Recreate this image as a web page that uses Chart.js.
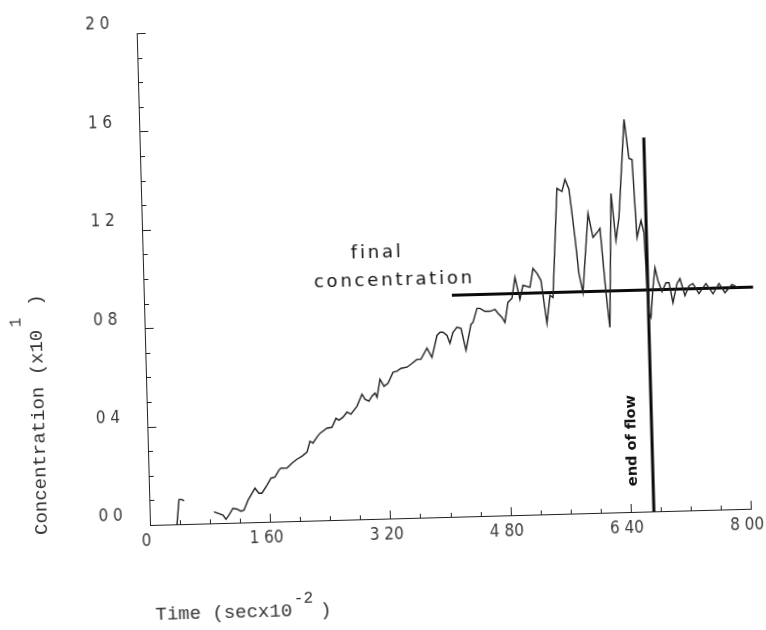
<!DOCTYPE html>
<html>
<head>
<meta charset="utf-8">
<title>Concentration vs time</title>
<script src="https://cdn.jsdelivr.net/npm/chart.js@4.4.1/dist/chart.umd.min.js"></script>
<style>
  html, body { margin: 0; padding: 0; background: #fff; }
  /* the original plot was scanned slightly crooked */
  #wrap { width: 766px; height: 630px; transform: rotate(-1.55deg); transform-origin: 150px 525px; }
</style>
</head>
<body>
<div id="wrap"><canvas id="chart" width="766" height="630"></canvas></div>
<script>
/* ── DATA ─────────────────────────────────────────────────── */
const xTickLabels = ['0', '1 60', '3 20', '4 80', '6 40', '8 00'];
const yTickLabels = ['0 0', '0 4', '0 8', '1 2', '1 6', '2 0'];

// short blip before the main trace
const blipTime = [0.36, 0.395, 0.435, 0.461];
const blipConc = [0.00, 0.100, 0.100, 0.094];

// main trace (time x10^-2 s, concentration x10^1)
const timeVals = [
  0.856, 0.935, 0.975, 1.013, 1.055, 1.110, 1.163, 1.216, 1.256, 1.313,
  1.410, 1.461, 1.501, 1.571, 1.627, 1.680, 1.736, 1.763, 1.843, 1.912,
  1.979, 2.047, 2.116, 2.159, 2.198, 2.254, 2.295, 2.390, 2.456, 2.514,
  2.553, 2.607, 2.662, 2.714, 2.797, 2.868, 2.906, 2.958, 3.000, 3.041,
  3.067, 3.113, 3.164, 3.218, 3.289, 3.342, 3.396, 3.476, 3.545, 3.612,
  3.665, 3.749, 3.812, 3.887, 3.928, 3.967, 4.020, 4.057, 4.101, 4.156,
  4.209, 4.268, 4.343, 4.371, 4.429, 4.469, 4.534, 4.600, 4.668, 4.707,
  4.758, 4.796, 4.843, 4.898, 4.945, 5.004, 5.049, 5.142, 5.188, 5.240,
  5.290, 5.355, 5.405, 5.444, 5.536, 5.602, 5.646, 5.696, 5.758, 5.798,
  5.845, 5.940, 5.998, 6.053, 6.094, 6.151, 6.191, 6.253, 6.303, 6.351,
  6.453, 6.505, 6.545, 6.584, 6.643, 6.678, 6.699, 6.715, 6.741, 6.778,
  6.812, 6.847, 6.897, 6.953, 6.993, 7.039, 7.099, 7.140, 7.201, 7.258,
  7.311, 7.388, 7.484, 7.575, 7.658, 7.734, 7.831, 7.910
];
const concVals = [
  0.046, 0.037, 0.032, 0.015, 0.032, 0.059, 0.055, 0.046, 0.050, 0.090,
  0.138, 0.117, 0.117, 0.149, 0.177, 0.181, 0.209, 0.217, 0.216, 0.236,
  0.251, 0.263, 0.279, 0.323, 0.315, 0.339, 0.354, 0.374, 0.377, 0.413,
  0.405, 0.417, 0.437, 0.428, 0.460, 0.508, 0.487, 0.479, 0.499, 0.511,
  0.494, 0.567, 0.538, 0.550, 0.594, 0.598, 0.609, 0.613, 0.628, 0.644,
  0.644, 0.688, 0.650, 0.739, 0.751, 0.751, 0.738, 0.705, 0.750, 0.770,
  0.765, 0.675, 0.780, 0.788, 0.844, 0.844, 0.831, 0.831, 0.838, 0.822,
  0.805, 0.784, 0.865, 0.881, 0.966, 0.876, 0.933, 0.924, 1.000, 0.980,
  0.951, 0.776, 0.889, 0.880, 1.323, 1.310, 1.359, 1.318, 1.122, 0.975,
  0.897, 1.218, 1.120, 1.139, 1.156, 0.895, 0.752, 1.297, 1.105, 1.198,
  1.596, 1.437, 1.432, 1.115, 1.183, 1.134, 0.918, 0.805, 0.788, 0.909,
  0.990, 0.937, 0.892, 0.928, 0.928, 0.846, 0.923, 0.943, 0.873, 0.913,
  0.921, 0.880, 0.920, 0.878, 0.918, 0.881, 0.913, 0.900
];

// hand-drawn markings
const finalTime   = [4.10, 8.11];
const finalConc   = [0.90, 0.90];
const flowEndTime = [6.71, 6.71];
const flowEndConc = [0.00, 1.52];

const pts = (xs, ys) => xs.map((t, i) => ({ x: t, y: ys[i] }));

/* ── AXIS TICKS, TITLES, NOTES ────────────────────────────── */
const axisDeco = {
  id: 'axisDeco',
  afterDraw(chart) {
    const { ctx, chartArea: a, scales: { x, y } } = chart;
    ctx.save();

    // inward tick marks, 0.1 on y and 0.4 on x
    ctx.strokeStyle = '#222';
    ctx.lineWidth = 1;
    ctx.beginPath();
    for (let i = 0; i <= 20; i++) {
      const py = Math.round(y.getPixelForValue(i * 0.1)) + 0.5;
      ctx.moveTo(a.left, py);
      ctx.lineTo(a.left + (i % 4 ? 5 : 9), py);
      const px = Math.round(x.getPixelForValue(i * 0.4)) + 0.5;
      ctx.moveTo(px, a.bottom);
      ctx.lineTo(px, a.bottom - (i % 4 ? 4 : 8));
    }
    ctx.stroke();

    // axis titles with superscripts
    const big = '19px "Liberation Mono", "DejaVu Sans Mono", monospace';
    const small = '16px "Liberation Mono", "DejaVu Sans Mono", monospace';
    ctx.fillStyle = '#333';
    ctx.textAlign = 'left';
    ctx.textBaseline = 'alphabetic';

    ctx.font = big;
    const xt = 'Time (secx10';
    ctx.fillText(xt, 153, 620);
    const xw = ctx.measureText(xt).width;
    ctx.font = small;
    ctx.fillText('-2', 153 + xw + 2, 607);
    ctx.font = big;
    ctx.fillText(')', 153 + xw + 28, 620);

    ctx.save();
    ctx.translate(47, 532);
    ctx.rotate(-Math.PI / 2);
    const yt = 'Concentration (x10';
    ctx.fillText(yt, 0, 0);
    const yw = ctx.measureText(yt).width;
    ctx.font = small;
    ctx.fillText('1', yw + 3, -21);
    ctx.font = big;
    ctx.fillText(')', yw + 24, 0);
    ctx.restore();

    // handwritten notes
    ctx.fillStyle = '#111';
    ctx.textAlign = 'center';
    ctx.textBaseline = 'middle';
    ctx.font = '18px "DejaVu Sans", sans-serif';
    ctx.letterSpacing = '2.8px';
    ctx.fillText('final', x.getPixelForValue(3.12), y.getPixelForValue(1.08));
    ctx.fillText('concentration', x.getPixelForValue(3.34), y.getPixelForValue(0.965));
    ctx.letterSpacing = '0px';

    ctx.save();
    ctx.translate(x.getPixelForValue(6.44), y.getPixelForValue(0.29));
    ctx.rotate(-Math.PI / 2);
    ctx.font = 'bold 14.5px "DejaVu Sans", sans-serif';
    ctx.fillText('end of flow', 0, 0);
    ctx.restore();

    ctx.restore();
  }
};

/* ── CHART ────────────────────────────────────────────────── */
const tickFont = { family: "'DejaVu Sans Condensed', 'Liberation Sans Narrow', sans-serif", size: 17 };

new Chart(document.getElementById('chart'), {
  type: 'line',
  data: {
    datasets: [
      { data: pts(blipTime, blipConc), borderColor: '#222', borderWidth: 1.4, pointRadius: 0, tension: 0 },
      { data: pts(timeVals, concVals), borderColor: '#222', borderWidth: 1.4, pointRadius: 0, tension: 0 },
      { data: pts(finalTime, finalConc), borderColor: '#0a0a0a', borderWidth: 3, pointRadius: 0, clip: false },
      { data: pts(flowEndTime, flowEndConc), borderColor: '#0a0a0a', borderWidth: 3, pointRadius: 0, clip: false },
    ],
  },
  options: {
    responsive: false,
    animation: false,
    events: [],
    layout: { padding: { top: 33, right: 15, bottom: 0, left: 0 } },
    plugins: { legend: { display: false }, tooltip: { enabled: false } },
    scales: {
      x: {
        type: 'linear', min: 0, max: 8,
        grid: { display: false, drawTicks: false },
        border: { display: true, color: '#222', width: 1 },
        ticks: {
          count: 6, maxRotation: 0, autoSkip: false,
          padding: 6, labelOffset: -4,
          font: tickFont, color: '#3a3a3a',
          callback: (v, i) => xTickLabels[i],
        },
        // pin the plot box: no extra room for label overhang
        afterFit: s => { s.height = 105; s.paddingLeft = 0; s.paddingRight = 0; },
      },
      y: {
        type: 'linear', min: 0, max: 2,
        grid: { display: false, drawTicks: false },
        border: { display: true, color: '#222', width: 1 },
        ticks: {
          count: 6, padding: 27, labelOffset: -9,
          font: tickFont, color: '#3a3a3a',
          callback: (v, i) => yTickLabels[i],
        },
        afterFit: s => { s.width = 150; s.paddingTop = 0; s.paddingBottom = 0; },
      },
    },
  },
  plugins: [axisDeco],
});
</script>
</body>
</html>
